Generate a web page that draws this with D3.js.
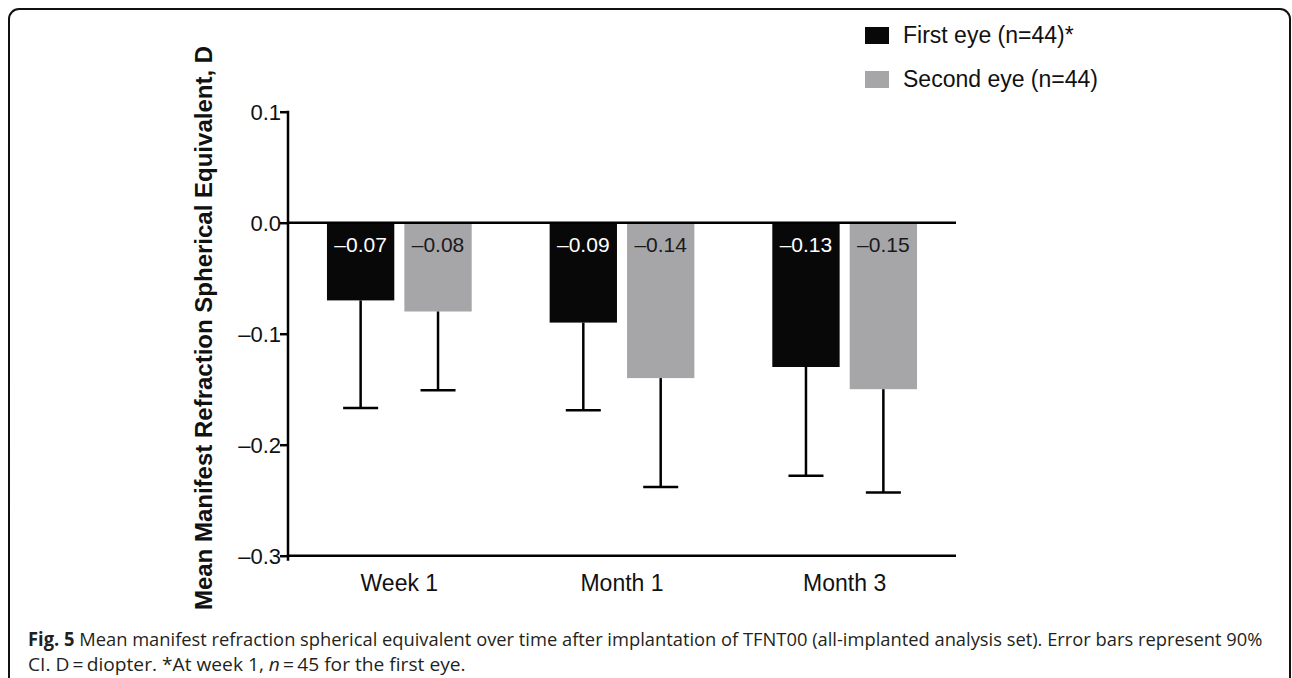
<!DOCTYPE html>
<html>
<head>
<meta charset="utf-8">
<script src="https://cdn.jsdelivr.net/npm/d3@7"></script>
<style>
  html, body { margin: 0; padding: 0; background: #fff; }
  svg { display: block; }
  .sans { font-family: "Liberation Sans", Arial, sans-serif; }
  .caption { font-family: "Open Sans", "Noto Sans", sans-serif; }
</style>
</head>
<body>
<svg id="chart" width="1292" height="678"></svg>
<script>
// Time points after implantation
const categories = ["Week 1", "Month 1", "Month 3"];
// Series names
const seriesNames = ["First eye (n=44)*", "Second eye (n=44)"];
// Mean MRSE (D) per time point
const firstEyeMean = [-0.07, -0.09, -0.13];
const secondEyeMean = [-0.08, -0.14, -0.15];
// Lower limit of the 90% CI
const firstEyeLower = [-0.167, -0.169, -0.228];
const secondEyeLower = [-0.151, -0.238, -0.243];
// Y-axis ticks
const yTicks = [0.1, 0.0, -0.1, -0.2, -0.3];
const seriesColors = ["#080808", "#a6a5a8"];
const labelColors = ["#ffffff", "#1a1a1a"];

const captionBold = "Fig. 5";
const captionLine1 = " Mean manifest refraction spherical equivalent over time after implantation of TFNT00 (all-implanted analysis set). Error bars represent 90%";
const captionLine2a = "CI. D\u2009=\u2009diopter. *At week 1, ";
const captionLine2n = "n";
const captionLine2b = "\u2009=\u200945 for the first eye.";

const svg = d3.select("#chart");

// figure frame
svg.append("rect")
  .attr("x", 9).attr("y", 9)
  .attr("width", 1281).attr("height", 720)
  .attr("rx", 10).attr("ry", 10)
  .attr("fill", "none").attr("stroke", "#111").attr("stroke-width", 2);

const y = d3.scaleLinear().domain([-0.3, 0.1]).range([555.7, 111.7]);
const x0 = d3.scaleBand().domain(categories).range([288, 956])
  .paddingInner(0.35).paddingOuter(0.175);
const x1 = d3.scaleBand().domain(seriesNames).range([0, x0.bandwidth()])
  .paddingInner(0.13);

const rows = categories.map((c, i) => ({
  cat: c,
  vals: [
    { s: seriesNames[0], k: 0, mean: firstEyeMean[i], lo: firstEyeLower[i] },
    { s: seriesNames[1], k: 1, mean: secondEyeMean[i], lo: secondEyeLower[i] }
  ]
}));

const groups = svg.append("g").selectAll("g").data(rows).join("g")
  .attr("transform", d => `translate(${x0(d.cat)},0)`);

// bars
groups.selectAll("rect").data(d => d.vals).join("rect")
  .attr("x", d => x1(d.s))
  .attr("width", x1.bandwidth())
  .attr("y", y(0))
  .attr("height", d => y(d.mean) - y(0))
  .attr("fill", d => seriesColors[d.k]);

// lower error bars
const capW = 35;
groups.selectAll("line.err").data(d => d.vals).join("line")
  .attr("class", "err")
  .attr("x1", d => x1(d.s) + x1.bandwidth() / 2)
  .attr("x2", d => x1(d.s) + x1.bandwidth() / 2)
  .attr("y1", d => y(d.mean))
  .attr("y2", d => y(d.lo))
  .attr("stroke", "#000").attr("stroke-width", 2.5);
groups.selectAll("line.cap").data(d => d.vals).join("line")
  .attr("class", "cap")
  .attr("x1", d => x1(d.s) + x1.bandwidth() / 2 - capW / 2)
  .attr("x2", d => x1(d.s) + x1.bandwidth() / 2 + capW / 2)
  .attr("y1", d => y(d.lo))
  .attr("y2", d => y(d.lo))
  .attr("stroke", "#000").attr("stroke-width", 2.5);

// value labels inside bars
groups.selectAll("text.val").data(d => d.vals).join("text")
  .attr("class", "val sans")
  .attr("x", d => x1(d.s) + x1.bandwidth() / 2)
  .attr("y", y(0) + 29)
  .attr("text-anchor", "middle")
  .attr("font-size", 21)
  .attr("fill", d => labelColors[d.k])
  .text(d => "\u2013" + Math.abs(d.mean).toFixed(2));

// zero line and bottom axis line
const [xa, xb] = x0.range();
svg.append("line").attr("x1", xa).attr("x2", xb)
  .attr("y1", y(0)).attr("y2", y(0))
  .attr("stroke", "#000").attr("stroke-width", 2.5);
svg.append("line").attr("x1", xa).attr("x2", xb)
  .attr("y1", y(-0.3)).attr("y2", y(-0.3))
  .attr("stroke", "#000").attr("stroke-width", 2.5);

// y axis
const yAxis = d3.axisLeft(y).tickValues(yTicks).tickSize(8).tickSizeOuter(0)
  .tickFormat(d => (d < 0 ? "\u2013" : "") + Math.abs(d).toFixed(1));
const gy = svg.append("g").attr("transform", `translate(${xa},0)`).call(yAxis);
gy.select(".domain").remove();
gy.selectAll(".tick line").attr("stroke", "#000").attr("stroke-width", 2.5);
gy.selectAll(".tick text").attr("class", "sans").attr("font-size", 22).attr("fill", "#111")
  .attr("x", -7).attr("dy", "0.36em");
svg.append("line").attr("x1", xa).attr("x2", xa)
  .attr("y1", y(0.1) - 1).attr("y2", y(-0.3) + 5)
  .attr("stroke", "#000").attr("stroke-width", 2.5);

// category labels
const xAxis = d3.axisBottom(x0).tickSize(0);
const gx = svg.append("g").attr("transform", `translate(0,${y(-0.3)})`).call(xAxis);
gx.select(".domain").remove();
gx.selectAll(".tick text").attr("class", "sans").attr("font-size", 23).attr("fill", "#111")
  .attr("y", 19).attr("dy", "0.71em");

// y axis title
svg.append("text")
  .attr("class", "sans")
  .attr("transform", `translate(212,${(48 + 608) / 2}) rotate(-90)`)
  .attr("text-anchor", "middle")
  .attr("font-size", 24).attr("font-weight", "bold").attr("fill", "#111")
  .text("Mean Manifest Refraction Spherical Equivalent, D");

// legend
const legend = svg.append("g");
seriesNames.forEach((s, i) => {
  const ly = 27 + i * 44;
  legend.append("rect").attr("x", 865).attr("y", ly).attr("width", 24).attr("height", 17)
    .attr("fill", seriesColors[i]);
  legend.append("text").attr("class", "sans").attr("x", 903).attr("y", ly + 16)
    .attr("font-size", 23).attr("fill", "#111").text(s);
});

// caption, each line fitted to its measured width
const capG1 = svg.append("g").attr("fill", "#231f20");
const t1 = capG1.append("text").attr("class", "caption").attr("font-size", 19).attr("x", 0).attr("y", 0);
t1.append("tspan").attr("font-weight", "bold").text(captionBold);
t1.append("tspan").text(captionLine1);
const capG2 = svg.append("g").attr("fill", "#231f20");
const t2 = capG2.append("text").attr("class", "caption").attr("font-size", 19).attr("x", 0).attr("y", 0);
t2.append("tspan").text(captionLine2a);
t2.append("tspan").attr("font-style", "italic").text(captionLine2n);
t2.append("tspan").text(captionLine2b);
const sx1 = (1263 - 28) / t1.node().getComputedTextLength();
const sx2 = (466 - 28) / t2.node().getComputedTextLength();
capG1.attr("transform", `translate(28,646) scale(${sx1},1)`);
capG2.attr("transform", `translate(28,671) scale(${sx2},1)`);
</script>
</body>
</html>
